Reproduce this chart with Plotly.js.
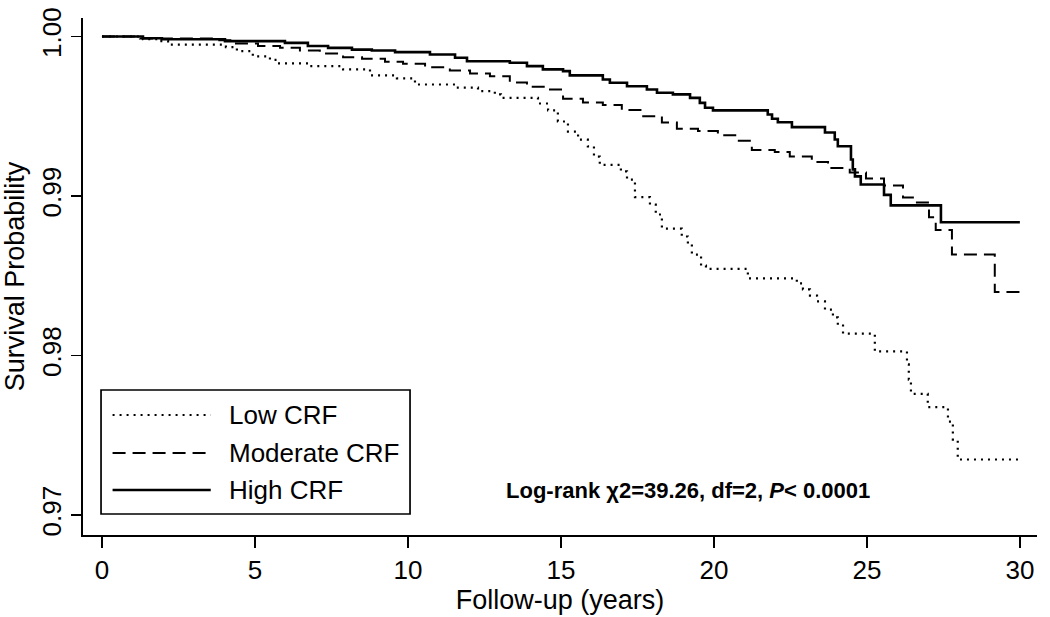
<!DOCTYPE html>
<html>
<head>
<meta charset="utf-8">
<script src="https://cdn.plot.ly/plotly-3.0.1.min.js"></script>
<style>html,body{margin:0;padding:0;background:#fff;}#chart{width:1050px;height:617px;}</style>
</head>
<body>
<div id="chart"></div>
<script>
const seriesNames = ["Low CRF", "Moderate CRF", "High CRF"];

const lowTime = [0,1.34,1.90,2.16,4.05,4.41,4.93,5.49,5.72,6.80,7.88,8.76,9.64,10.23,11.54,12.29,12.84,13.04,14.25,14.58,14.90,15.23,15.56,15.88,16.08,16.27,16.96,17.16,17.42,17.91,18.10,18.30,18.95,19.15,19.28,19.58,19.74,21.11,22.71,22.91,23.14,23.37,23.63,23.89,24.05,24.22,25.26,26.31,26.37,26.44,26.99,27.65,27.81,27.97,30];
const lowSurv = [1,0.99983,0.99971,0.99949,0.99934,0.99908,0.99876,0.99853,0.99831,0.99814,0.99794,0.99756,0.99738,0.99699,0.99679,0.99657,0.99637,0.99615,0.99580,0.99537,0.99467,0.99404,0.99354,0.99311,0.99247,0.99195,0.99154,0.99103,0.98993,0.98946,0.98884,0.98796,0.98746,0.98696,0.98633,0.98564,0.98543,0.98483,0.98452,0.98414,0.98376,0.98339,0.98288,0.98239,0.98188,0.98137,0.98026,0.97944,0.97849,0.97760,0.97676,0.97586,0.97473,0.97348,0.97348];

const modTime = [0,1.24,3.69,4.25,5.10,5.82,6.47,7.12,7.88,8.50,9.25,9.84,10.56,11.37,12.03,12.68,13.33,13.89,14.51,15.07,15.72,16.37,16.99,17.65,18.30,18.79,19.48,20.13,20.75,21.24,21.99,22.48,23.20,23.73,24.44,24.97,25.56,26.18,26.57,27.03,27.25,27.78,29.18,30];
const modSurv = [1,0.99987,0.99977,0.99956,0.99940,0.99929,0.99912,0.99894,0.99870,0.99860,0.99841,0.99829,0.99807,0.99787,0.99768,0.99751,0.99712,0.99685,0.99668,0.99609,0.99586,0.99571,0.99539,0.99500,0.99461,0.99422,0.99408,0.99381,0.99347,0.99288,0.99276,0.99247,0.99213,0.99175,0.99147,0.99110,0.99066,0.98990,0.98959,0.98866,0.98787,0.98633,0.98398,0.98398];

const highTime = [0,1.34,1.96,4.02,5.98,6.73,7.39,8.17,8.82,9.58,10.72,11.54,11.93,13.33,13.89,14.41,15.07,15.29,16.37,16.60,17.16,17.81,18.14,18.66,19.22,19.54,19.71,19.97,21.76,21.90,22.09,22.55,23.63,23.95,24.05,24.48,24.54,24.61,24.80,25.56,25.78,27.42,30];
const highSurv = [1,0.99989,0.99983,0.99971,0.99960,0.99940,0.99929,0.99918,0.99912,0.99902,0.99887,0.99867,0.99845,0.99835,0.99814,0.99794,0.99783,0.99756,0.99730,0.99710,0.99688,0.99668,0.99647,0.99637,0.99615,0.99584,0.99553,0.99537,0.99511,0.99484,0.99462,0.99432,0.99398,0.99354,0.99312,0.99229,0.99167,0.99123,0.99072,0.99007,0.98941,0.98835,0.98835];

const xTicks = [0,5,10,15,20,25,30];
const yTicks = [0.97,0.98,0.99,1.00];
const yTickText = ["0.97","0.98","0.99","1.00"];
const statText = "Log-rank χ2=39.26, df=2, <i>P</i>< 0.0001";

const FONT = '"Liberation Sans", Arial, sans-serif';
const dashes = ["2px,5px", "13px,7px", "solid"];
const widths = [2.2, 2, 2.6];

const traces = [
  {x: lowTime, y: lowSurv},
  {x: modTime, y: modSurv},
  {x: highTime, y: highSurv}
].map((d, i) => ({
  x: d.x, y: d.y, name: seriesNames[i], type: 'scatter', mode: 'lines',
  line: {shape: 'hv', color: '#000', width: widths[i], dash: dashes[i]},
  showlegend: false, hoverinfo: 'skip'
}));

// manual legend (decoration, paper coords)
const shapes = [
  {type:'rect', xref:'paper', yref:'paper', x0:0.0189, x1:0.3428, y0:0.0406, y1:0.2805,
   line:{color:'#000', width:1.7}, fillcolor:'rgba(0,0,0,0)'}
];
const rowY = [0.2321, 0.1586, 0.0870];
const annotations = [];
seriesNames.forEach((n, i) => {
  shapes.push({type:'line', xref:'paper', yref:'paper', x0:0.0310, x1:0.1339, y0:rowY[i], y1:rowY[i],
    line:{color:'#000', width:widths[i], dash:dashes[i]}});
  annotations.push({xref:'paper', yref:'paper', x:0.1505, y:rowY[i], xanchor:'left', yanchor:'middle',
    text:n, showarrow:false, font:{family:FONT, size:26, color:'#000'}});
});
annotations.push({xref:'paper', yref:'paper', x:0.6342, y:0.0870, xanchor:'center', yanchor:'middle',
  text:'<b>' + statText + '</b>', showarrow:false, font:{family:FONT, size:22, color:'#000'}});

const layout = {
  width:1050, height:617,
  margin:{l:83, r:13, t:18, b:82},
  paper_bgcolor:'#fff', plot_bgcolor:'#fff',
  font:{family:FONT, color:'#000'},
  xaxis:{range:[-0.62, 30.56], tickvals:xTicks, ticks:'outside', ticklen:11, tickwidth:1.7, tickcolor:'#000',
    showline:true, linecolor:'#000', linewidth:1.7, showgrid:false, zeroline:false,
    tickfont:{family:FONT, size:26, color:'#000'},
    title:{text:'Follow-up (years)', font:{family:FONT, size:27, color:'#000'}, standoff:3}},
  yaxis:{range:[0.968746, 1.00116], tickvals:yTicks, ticktext:yTickText, tickangle:-90, ticks:'outside', ticklen:10, tickwidth:1.7, tickcolor:'#000',
    showline:true, linecolor:'#000', linewidth:1.7, showgrid:false, zeroline:false,
    tickfont:{family:FONT, size:26, color:'#000'},
    title:{text:'Survival Probability', font:{family:FONT, size:27, color:'#000'}, standoff:4}},
  shapes: shapes,
  annotations: annotations
};

Plotly.newPlot('chart', traces, layout, {staticPlot:true, displayModeBar:false});
</script>
</body>
</html>
